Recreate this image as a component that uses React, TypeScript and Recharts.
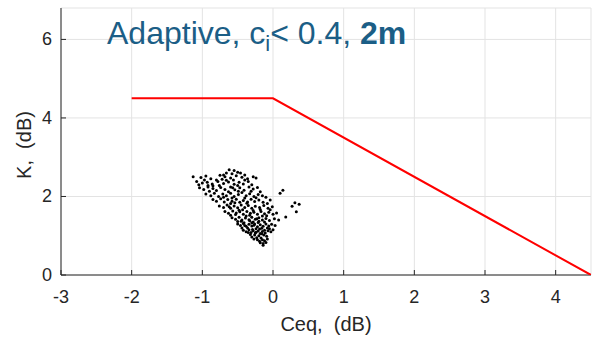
import { ScatterChart, Scatter, XAxis, YAxis, CartesianGrid, Customized } from 'recharts'

// --- Data ---

const xTicks = [-3, -2, -1, 0, 1, 2, 3, 4]
const yTicks = [0, 2, 4, 6]

// K limit (red): flat at 4.5 dB then falling to 0 at Ceq = 4.5
const limitCeq = [-2, 0, 4.5]
const limitK = [4.5, 4.5, 0]

const measured: [number, number][] = [
  [-0.62, 2.68], [-0.55, 2.66], [-0.5, 2.62], [-0.66, 2.6], [-0.58, 2.58], [-0.46, 2.6], [-0.7, 2.55],
  [-1.13, 2.5], [-1.02, 2.48], [-0.95, 2.52], [-0.88, 2.45], [-0.75, 2.54], [-0.68, 2.5], [-0.6, 2.47],
  [-0.52, 2.53], [-0.44, 2.49], [-0.36, 2.45], [-0.28, 2.5], [-0.24, 2.47], [-0.8, 2.42], [-0.56, 2.42], [-0.4, 2.55],
  [-1.08, 2.38], [-1.0, 2.34], [-1.05, 2.3], [-0.93, 2.36], [-0.86, 2.32], [-0.78, 2.38], [-0.7, 2.33],
  [-0.63, 2.37], [-0.55, 2.31], [-0.48, 2.36], [-0.42, 2.32], [-0.35, 2.38], [-0.3, 2.3], [-0.97, 2.42], [-0.66, 2.41],
  [-1.04, 2.22], [-0.98, 2.18], [-0.92, 2.24], [-0.85, 2.2], [-0.8, 2.15], [-0.74, 2.23], [-0.68, 2.18],
  [-0.6, 2.24], [-0.54, 2.17], [-0.47, 2.22], [-0.41, 2.16], [-0.34, 2.24], [-0.28, 2.19], [-0.22, 2.23],
  [-0.18, 2.12], [-0.9, 2.13], [-0.63, 2.12], [-0.5, 2.28], [-0.76, 2.28],
  [-0.95, 2.06], [-0.88, 2.02], [-0.83, 2.08], [-0.77, 2.0], [-0.71, 2.06], [-0.66, 2.02], [-0.6, 2.08],
  [-0.55, 2.0], [-0.49, 2.05], [-0.44, 2.1], [-0.38, 2.02], [-0.33, 2.07], [-0.27, 2.0], [-0.21, 2.05],
  [-0.15, 2.02], [-0.1, 1.98], [-0.04, 1.91], [0.1, 2.08], [0.14, 2.16], [-0.58, 1.96],
  [-0.85, 1.92], [-0.8, 1.88], [-0.74, 1.94], [-0.69, 1.86], [-0.64, 1.92], [-0.58, 1.88], [-0.52, 1.93],
  [-0.47, 1.85], [-0.42, 1.9], [-0.36, 1.86], [-0.31, 1.93], [-0.26, 1.87], [-0.2, 1.91], [-0.14, 1.85],
  [-0.08, 1.82], [-0.6, 1.82], [-0.4, 1.96], [-0.24, 1.97],
  [-0.76, 1.76], [-0.7, 1.72], [-0.65, 1.78], [-0.6, 1.7], [-0.55, 1.76], [-0.5, 1.71], [-0.45, 1.78],
  [-0.4, 1.72], [-0.35, 1.77], [-0.3, 1.7], [-0.25, 1.75], [-0.19, 1.72], [-0.13, 1.77], [-0.07, 1.7],
  [-0.01, 1.74], [0.27, 1.75], [0.31, 1.84], [0.37, 1.8], [-0.48, 1.65], [-0.28, 1.64],
  [-0.68, 1.62], [-0.63, 1.57], [-0.57, 1.63], [-0.52, 1.58], [-0.47, 1.61], [-0.42, 1.55], [-0.37, 1.62],
  [-0.32, 1.57], [-0.27, 1.6], [-0.22, 1.55], [-0.17, 1.62], [-0.12, 1.56], [-0.06, 1.6], [0.0, 1.55],
  [0.05, 1.58], [0.33, 1.61], [-0.6, 1.52], [-0.38, 1.5], [-0.15, 1.5],
  [-0.58, 1.46], [-0.53, 1.42], [-0.48, 1.47], [-0.44, 1.4], [-0.39, 1.45], [-0.34, 1.41], [-0.3, 1.47],
  [-0.25, 1.42], [-0.2, 1.46], [-0.15, 1.4], [-0.1, 1.44], [-0.05, 1.39], [0.02, 1.43], [0.08, 1.4],
  [0.18, 1.48], [-0.5, 1.36], [-0.28, 1.35], [-0.12, 1.35], [-0.41, 1.33], [-0.2, 1.37],
  [-0.5, 1.3], [-0.46, 1.26], [-0.42, 1.31], [-0.38, 1.24], [-0.34, 1.29], [-0.3, 1.25], [-0.26, 1.3],
  [-0.22, 1.23], [-0.18, 1.28], [-0.14, 1.24], [-0.1, 1.3], [-0.06, 1.25], [-0.02, 1.29], [0.03, 1.26],
  [-0.36, 1.2], [-0.24, 1.18], [-0.44, 1.2], [-0.16, 1.19], [-0.08, 1.2], [-0.3, 1.33],
  [-0.42, 1.14], [-0.38, 1.1], [-0.34, 1.15], [-0.31, 1.08], [-0.28, 1.13], [-0.25, 1.07], [-0.21, 1.12],
  [-0.18, 1.06], [-0.15, 1.11], [-0.11, 1.07], [-0.07, 1.13], [-0.03, 1.1], [0.0, 1.15], [-0.26, 1.02],
  [-0.2, 1.0], [-0.32, 1.03], [-0.13, 1.02], [-0.09, 0.99], [-0.23, 0.95], [-0.17, 0.94],
  [-0.3, 0.97], [-0.27, 0.92], [-0.22, 0.9], [-0.19, 0.86], [-0.15, 0.9], [-0.12, 0.87], [-0.08, 0.92],
  [-0.14, 0.8], [-0.18, 0.82], [-0.1, 0.83], [-0.14, 0.76],
  [-0.33, 1.38], [-0.27, 1.27], [-0.21, 1.34], [-0.19, 1.17], [-0.12, 1.14], [-0.29, 1.16], [-0.35, 1.08],
  [-0.24, 1.09], [-0.16, 1.05], [-0.05, 1.18], [-0.4, 1.26], [-0.45, 1.37], [-0.23, 1.43], [-0.09, 1.51],
  [-0.33, 1.52], [-0.53, 1.54], [-0.43, 1.66], [-0.18, 1.67], [-0.04, 1.66], [-0.62, 1.74], [-0.37, 1.83],
  [-0.54, 1.84], [-0.7, 1.98], [-0.49, 2.13], [-0.31, 2.13], [-0.85, 2.27], [-0.57, 2.22], [-0.4, 2.42],
  [-0.72, 2.44], [-0.92, 2.28],
]

// --- Styles ---

const FONT = '"Liberation Sans", Arial, Helvetica, sans-serif'
const INK = '#262626'
const TITLE = '#1b5e86'

const limitData = limitCeq.map((x, i) => ({ x, y: limitK[i] }))
const pointData = measured.map(([x, y]) => ({ x, y }))

// matlab-style ticks: short marks pointing into the plot
const BottomTick = ({ x, y, payload }: any) => (
  <g>
    <line x1={x} x2={x} y1={y} y2={y - 5} stroke={INK} />
    <text x={x} y={y + 28} textAnchor="middle" fontSize={18} fill={INK} fontFamily={FONT}>
      {payload.value}
    </text>
  </g>
)

const TopTick = ({ x, y }: any) => <line x1={x} x2={x} y1={y} y2={y + 5} stroke={INK} />

const LeftTick = ({ x, y, payload }: any) => (
  <g>
    <line x1={x} x2={x + 5} y1={y} y2={y} stroke={INK} />
    <text x={x - 9} y={y + 6} textAnchor="end" fontSize={18} fill={INK} fontFamily={FONT}>
      {payload.value}
    </text>
  </g>
)

const Dot = ({ cx, cy }: any) => <circle cx={cx} cy={cy} r={1.5} fill="#000" />
const NoDot = () => <g />

const Texts = () => (
  <g fontFamily={FONT}>
    <text x={107} y={44} fontSize={32} fill={TITLE}>
      <tspan>Adaptive, c</tspan>
      <tspan fontSize={22} dy={7}>i</tspan>
      <tspan dy={-7}>{'< 0.4, '}</tspan>
      <tspan fontWeight="bold">2m</tspan>
    </text>
    <text x={326} y={331} textAnchor="middle" fontSize={20} fill={INK} style={{ whiteSpace: 'pre' }}>
      {'Ceq,  (dB)'}
    </text>
    <text
      x={31}
      y={145}
      textAnchor="middle"
      fontSize={20}
      fill={INK}
      transform="rotate(-90 31 145)"
      style={{ whiteSpace: 'pre' }}
    >
      {'K,  (dB)'}
    </text>
  </g>
)

export default function App() {
  return (
    <div style={{ position: 'absolute', left: 0, top: 0, width: 596, height: 338, background: '#fff' }}>
      <ScatterChart width={596} height={338} margin={{ top: 8, right: 5, left: 0, bottom: 0 }}>
        <CartesianGrid stroke="#e3e3e3" strokeWidth={1} />
        <XAxis
          type="number"
          dataKey="x"
          domain={[-3, 4.5]}
          ticks={xTicks}
          height={63}
          tickSize={0}
          tickMargin={0}
          tick={<BottomTick />}
          axisLine={{ stroke: INK }}
          allowDataOverflow
        />
        <XAxis
          xAxisId="top"
          orientation="top"
          type="number"
          dataKey="x"
          domain={[-3, 4.5]}
          ticks={xTicks}
          height={0}
          tickSize={0}
          tickMargin={0}
          tick={<TopTick />}
          axisLine={{ stroke: INK }}
        />
        <YAxis
          type="number"
          dataKey="y"
          domain={[0, 6.8]}
          ticks={yTicks}
          width={61}
          tickSize={0}
          tickMargin={0}
          tick={<LeftTick />}
          axisLine={{ stroke: INK }}
          allowDataOverflow
        />
        <Scatter
          data={limitData}
          line={{ stroke: '#ff0000', strokeWidth: 2 }}
          shape={<NoDot />}
          isAnimationActive={false}
        />
        <Scatter data={pointData} shape={<Dot />} isAnimationActive={false} />
        <Customized component={<Texts />} />
      </ScatterChart>
    </div>
  )
}
